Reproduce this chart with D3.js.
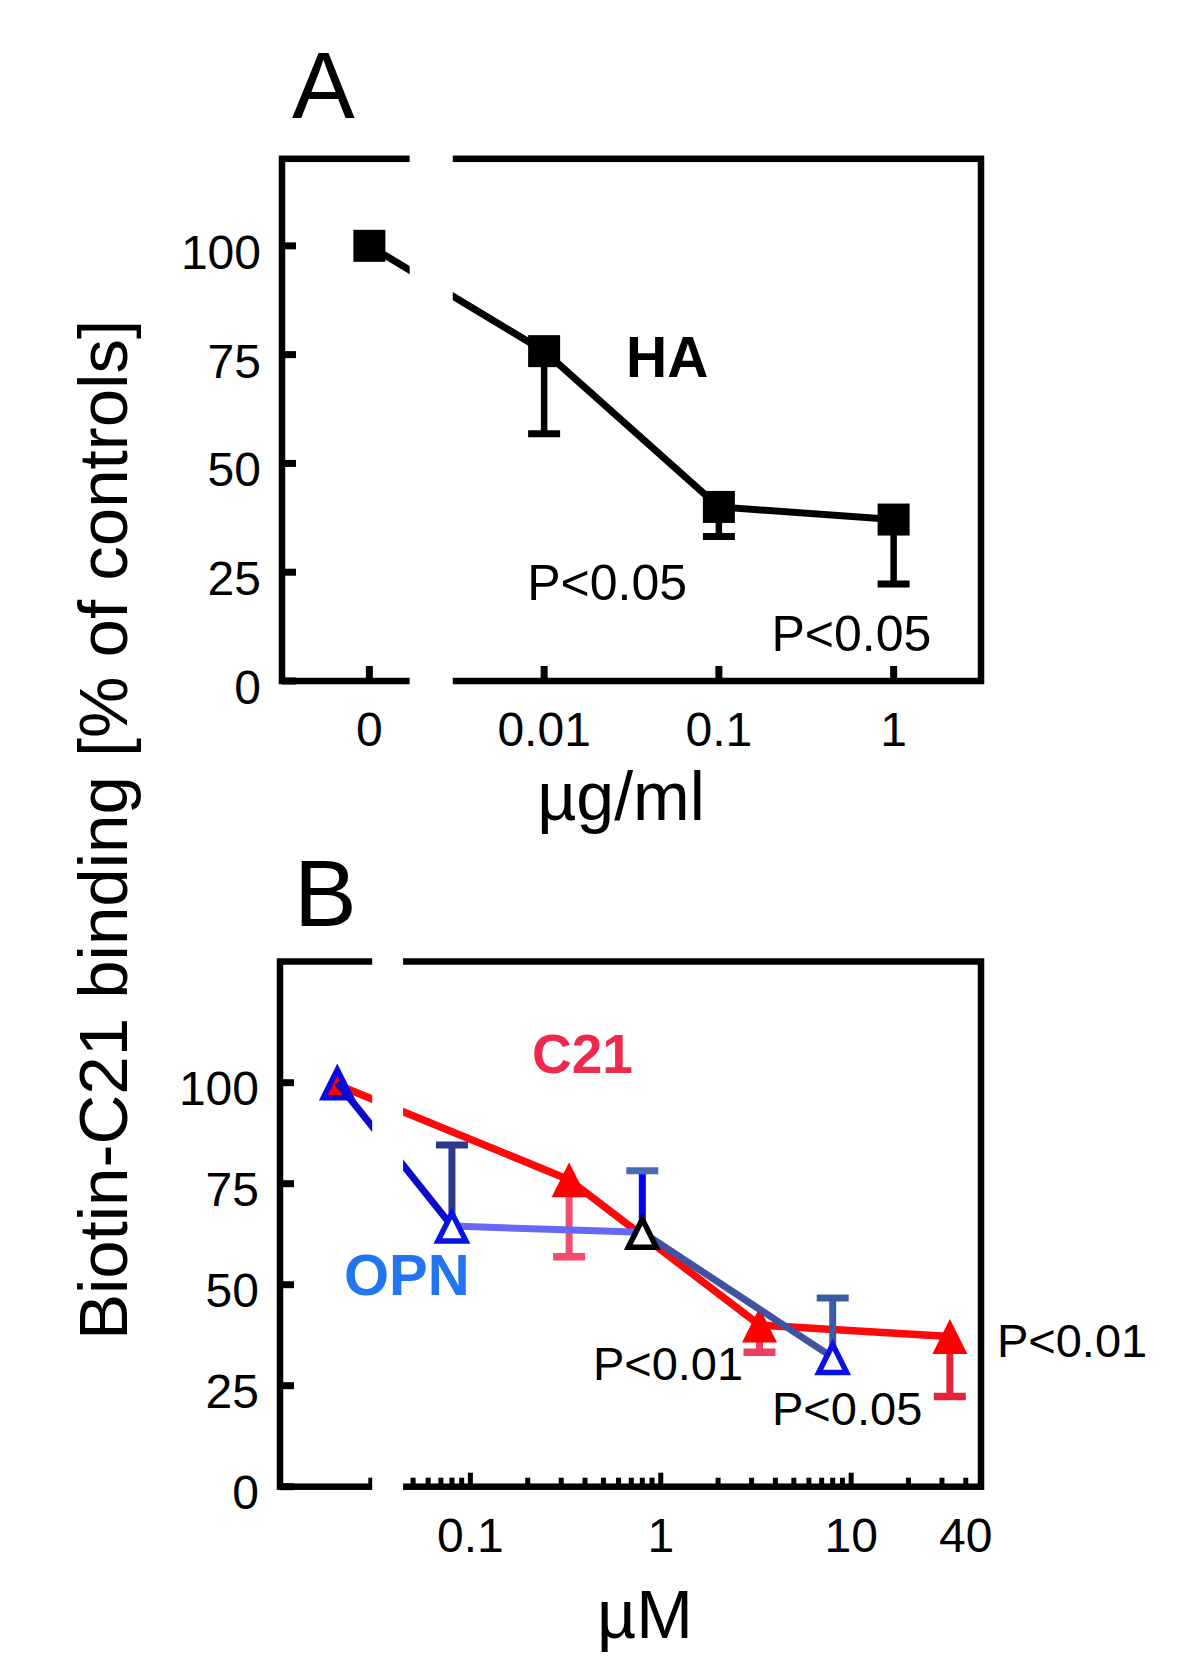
<!DOCTYPE html>
<html>
<head>
<meta charset="utf-8">
<script src="https://cdn.jsdelivr.net/npm/d3@7"></script>
<style>
  body { margin: 0; background: #ffffff; }
  svg { display: block; }
</style>
</head>
<body>
<svg id="chart" width="1200" height="1679"></svg>
<script>
// ---------------- DATA ----------------
// Panel A: HA (µg/ml)
const haConc  = [0, 0.01, 0.1, 1];
const haMean  = [100, 75.8, 40, 37.1];
const haLower = [null, 56.8, 33.2, 22.3];
const haTickValues = [0, 0.01, 0.1, 1];
const haTickLabels = ["0", "0.01", "0.1", "1"];
const yTickValues = [0, 25, 50, 75, 100];

// Panel B: C21 and OPN (µM)
const c21Conc  = [0, 0.33, 3.3, 33];
const c21Mean  = [99.5, 76, 40, 37.2];
const c21Lower = [null, 56.9, 33.3, 22.3];

const opnConc  = [0, 0.08, 0.8, 8];
const opnMean  = [100, 64.5, 63, 32];
const opnUpper = [null, 84.6, 78.2, 46.7];

const bMajorTicks = [0.1, 1, 10];
const bMinorTicks = [0.03, 0.04, 0.05, 0.06, 0.07, 0.08, 0.09,
                     0.2, 0.3, 0.4, 0.5, 0.6, 0.7, 0.8, 0.9,
                     2, 3, 4, 5, 6, 7, 8, 9, 20, 30, 40];
const bTickValues = [0.1, 1, 10, 40];
const bTickLabels = ["0.1", "1", "10", "40"];

// Annotations
const pLabelsA = [
  { text: "P<0.05", conc: 0.008, value: 18.5 },
  { text: "P<0.05", conc: 0.2,   value: 7.0 }
];
const pLabelsB = [
  { text: "P<0.01", conc: 0.44, value: 26.5 },
  { text: "P<0.05", conc: 3.84, value: 15.2 },
  { text: "P<0.01", conc: 58.3, value: 32.0 }
];

// ---------------- STYLE / LAYOUT ----------------
const FONT = '"Liberation Sans", Arial, Helvetica, sans-serif';
const FRAME_W = 6.5;
const haControlAt = 0.001;   // where concentration 0 is placed on the log axis (A)
const bControlAt  = 0.02;    // where concentration 0 is placed on the log axis (B)
const gapA = [0.0017, 0.003];
const gapB = [0.0305, 0.0443];

const c21LineColor = "#fc0a0a";
const c21MarkColor = "#ff0000";
const c21ErrColors = ["#f44d6d", "#ef3c62", "#e5243c"];
const opnSegColors = ["#0c0cc8", "#6868f6", "#4352a0"];
const opnMarkColors = ["#0a0ae0", "#0a14e0", "#000000", "#0a14e0"];
const opnErrStem = ["#2a3890", "#0000ff", "#3c5aa5"];
const opnErrCap  = ["#2a3890", "#4a6ab5", "#3c5aa5"];

const svg = d3.select("#chart");

// ---------------- PANEL A ----------------
const xA = d3.scaleLog().domain([Math.pow(10, -3.5), Math.pow(10, 0.5)]).range([282, 981]);
const yA = d3.scaleLinear().domain([0, 120]).range([681, 158.8]);
const axA = c => (c === 0 ? haControlAt : c);

const gA = svg.append("g");
const [ax0, ax1] = xA.range();
const [ay0, ay1] = yA.range();

gA.append("rect").attr("x", ax0).attr("y", ay1).attr("width", ax1 - ax0).attr("height", ay0 - ay1)
  .attr("fill", "none").attr("stroke", "#000").attr("stroke-width", FRAME_W);

gA.selectAll(".yt").data(yTickValues).enter().append("line")
  .attr("x1", ax0).attr("x2", ax0 + 14).attr("y1", d => yA(d)).attr("y2", d => yA(d))
  .attr("stroke", "#000").attr("stroke-width", 7);

gA.selectAll(".xt").data(haTickValues).enter().append("line")
  .attr("x1", d => xA(axA(d))).attr("x2", d => xA(axA(d)))
  .attr("y1", ay0).attr("y2", ay0 - 15)
  .attr("stroke", "#000").attr("stroke-width", 7);

const haPts = haConc.map((c, i) => ({ c, m: haMean[i], lo: haLower[i] }));

gA.append("path").datum(haPts)
  .attr("d", d3.line().x(d => xA(axA(d.c))).y(d => yA(d.m)))
  .attr("fill", "none").attr("stroke", "#000").attr("stroke-width", 7);

const haErr = haPts.filter(d => d.lo !== null);
gA.selectAll(".es").data(haErr).enter().append("line")
  .attr("x1", d => xA(axA(d.c))).attr("x2", d => xA(axA(d.c)))
  .attr("y1", d => yA(d.m)).attr("y2", d => yA(d.lo))
  .attr("stroke", "#000").attr("stroke-width", 6.5);
gA.selectAll(".ec").data(haErr).enter().append("line")
  .attr("x1", d => xA(axA(d.c)) - 16).attr("x2", d => xA(axA(d.c)) + 16)
  .attr("y1", d => yA(d.lo)).attr("y2", d => yA(d.lo))
  .attr("stroke", "#000").attr("stroke-width", 7);

gA.selectAll(".sq").data(haPts).enter().append("rect")
  .attr("x", d => xA(axA(d.c)) - 16).attr("y", d => yA(d.m) - 16)
  .attr("width", 32).attr("height", 32).attr("fill", "#000");

// axis break
gA.append("rect").attr("x", xA(gapA[0])).attr("width", xA(gapA[1]) - xA(gapA[0]))
  .attr("y", ay1 - 8).attr("height", ay0 - ay1 + 16).attr("fill", "#fff");

// labels
gA.selectAll(".yl").data(yTickValues).enter().append("text")
  .attr("x", 261).attr("y", d => yA(d) + 23).attr("text-anchor", "end")
  .attr("font-family", FONT).attr("font-size", 48).text(d => d);

gA.selectAll(".xl").data(haTickValues).enter().append("text")
  .attr("x", d => xA(axA(d))).attr("y", ay0 + 65).attr("text-anchor", "middle")
  .attr("font-family", FONT).attr("font-size", 48).text((d, i) => haTickLabels[i]);

gA.append("text").attr("x", 621).attr("y", 820).attr("text-anchor", "middle")
  .attr("font-family", FONT).attr("font-size", 68).text("µg/ml");

gA.append("text").attr("x", 292).attr("y", 118)
  .attr("font-family", FONT).attr("font-size", 94).text("A");

gA.append("text").attr("x", 626).attr("y", 377)
  .attr("font-family", FONT).attr("font-size", 57).attr("font-weight", "bold").text("HA");

gA.selectAll(".pl").data(pLabelsA).enter().append("text")
  .attr("x", d => xA(d.conc)).attr("y", d => yA(d.value))
  .attr("font-family", FONT).attr("font-size", 50).text(d => d.text);

// ---------------- PANEL B ----------------
const xB = d3.scaleLog().domain([0.01, Math.pow(10, 1.682)]).range([280, 981]);
const yB = d3.scaleLinear().domain([0, 130]).range([1486.7, 961.5]);
const bx = c => (c === 0 ? bControlAt : c);

const gB = svg.append("g");
const [bx0, bx1] = xB.range();
const [by0, by1] = yB.range();

gB.append("rect").attr("x", bx0).attr("y", by1).attr("width", bx1 - bx0).attr("height", by0 - by1)
  .attr("fill", "none").attr("stroke", "#000").attr("stroke-width", FRAME_W);

gB.selectAll(".yt").data(yTickValues).enter().append("line")
  .attr("x1", bx0).attr("x2", bx0 + 14).attr("y1", d => yB(d)).attr("y2", d => yB(d))
  .attr("stroke", "#000").attr("stroke-width", 7);

gB.selectAll(".xmaj").data(bMajorTicks).enter().append("line")
  .attr("x1", d => xB(d)).attr("x2", d => xB(d)).attr("y1", by0).attr("y2", by0 - 14)
  .attr("stroke", "#000").attr("stroke-width", 5);
gB.selectAll(".xmin").data(bMinorTicks).enter().append("line")
  .attr("x1", d => xB(d)).attr("x2", d => xB(d)).attr("y1", by0).attr("y2", by0 - 9)
  .attr("stroke", "#000").attr("stroke-width", 5);

// triangle paths
const triFilled = (h) => `M0,${-h}L${h},${h}L${-h},${h}Z`;

const c21Pts = c21Conc.map((c, i) => ({ c, m: c21Mean[i], lo: c21Lower[i] }));
const opnPts = opnConc.map((c, i) => ({ c, m: opnMean[i], up: opnUpper[i] }));

// C21 error bars (lower)
const c21Err = c21Pts.filter(d => d.lo !== null);
gB.selectAll(".c21es").data(c21Err).enter().append("line")
  .attr("x1", d => xB(bx(d.c))).attr("x2", d => xB(bx(d.c)))
  .attr("y1", d => yB(d.m)).attr("y2", d => yB(d.lo))
  .attr("stroke", (d, i) => c21ErrColors[i]).attr("stroke-width", 7);
gB.selectAll(".c21ec").data(c21Err).enter().append("line")
  .attr("x1", d => xB(bx(d.c)) - 16).attr("x2", d => xB(bx(d.c)) + 16)
  .attr("y1", d => yB(d.lo)).attr("y2", d => yB(d.lo))
  .attr("stroke", (d, i) => c21ErrColors[i]).attr("stroke-width", 7.5);

// C21 line
gB.append("path").datum(c21Pts)
  .attr("d", d3.line().x(d => xB(bx(d.c))).y(d => yB(d.m)))
  .attr("fill", "none").attr("stroke", c21LineColor).attr("stroke-width", 7.5);

// C21 markers
gB.selectAll(".c21m").data(c21Pts).enter().append("path")
  .attr("transform", d => `translate(${xB(bx(d.c))},${yB(d.m)})`)
  .attr("d", (d, i) => triFilled(i === 0 ? 14 : 17.5))
  .attr("fill", c21MarkColor);

// OPN line segments
const segs = d3.pairs(opnPts);
gB.selectAll(".opnseg").data(segs).enter().append("line")
  .attr("x1", d => xB(bx(d[0].c))).attr("y1", d => yB(d[0].m))
  .attr("x2", d => xB(bx(d[1].c))).attr("y2", d => yB(d[1].m))
  .attr("stroke", (d, i) => opnSegColors[i]).attr("stroke-width", 7);

// OPN error bars (upper)
const opnErr = opnPts.filter(d => d.up !== null);
gB.selectAll(".opnes").data(opnErr).enter().append("line")
  .attr("x1", d => xB(bx(d.c))).attr("x2", d => xB(bx(d.c)))
  .attr("y1", d => yB(d.m)).attr("y2", d => yB(d.up))
  .attr("stroke", (d, i) => opnErrStem[i]).attr("stroke-width", 7);
gB.selectAll(".opnec").data(opnErr).enter().append("line")
  .attr("x1", d => xB(bx(d.c)) - 16).attr("x2", d => xB(bx(d.c)) + 16)
  .attr("y1", d => yB(d.up)).attr("y2", d => yB(d.up))
  .attr("stroke", (d, i) => opnErrCap[i]).attr("stroke-width", 7);

// OPN markers (open triangles)
gB.selectAll(".opnm").data(opnPts).enter().append("path")
  .attr("transform", d => `translate(${xB(bx(d.c))},${yB(d.m) + 1})`)
  .attr("d", triFilled(14))
  .attr("fill", d => (d.c === 0 ? "none" : "#fff"))
  .attr("stroke", (d, i) => opnMarkColors[i]).attr("stroke-width", 5.5)
  .attr("stroke-linejoin", "miter");

// axis break
gB.append("rect").attr("x", xB(gapB[0])).attr("width", xB(gapB[1]) - xB(gapB[0]))
  .attr("y", by1 - 8).attr("height", by0 - by1 + 16).attr("fill", "#fff");

// labels
gB.selectAll(".yl").data(yTickValues).enter().append("text")
  .attr("x", 259).attr("y", d => yB(d) + 22).attr("text-anchor", "end")
  .attr("font-family", FONT).attr("font-size", 48).text(d => d);

gB.selectAll(".xl").data(bTickValues).enter().append("text")
  .attr("x", d => xB(d)).attr("y", by0 + 65).attr("text-anchor", "middle")
  .attr("font-family", FONT).attr("font-size", 48).text((d, i) => bTickLabels[i]);

gB.append("text").attr("x", 645).attr("y", 1638).attr("text-anchor", "middle")
  .attr("font-family", FONT).attr("font-size", 68).text("µM");

gB.append("text").attr("x", 294).attr("y", 926)
  .attr("font-family", FONT).attr("font-size", 94).text("B");

gB.append("text").attr("x", 532).attr("y", 1073)
  .attr("font-family", FONT).attr("font-size", 55).attr("font-weight", "bold")
  .attr("fill", "#f0284c").text("C21");

gB.append("text").attr("x", 344).attr("y", 1295)
  .attr("font-family", FONT).attr("font-size", 58).attr("font-weight", "bold")
  .attr("fill", "#2274f0").text("OPN");

gB.selectAll(".pl").data(pLabelsB).enter().append("text")
  .attr("x", d => xB(d.conc)).attr("y", d => yB(d.value))
  .attr("font-family", FONT).attr("font-size", 47).text(d => d.text);

// shared y-axis title
svg.append("text")
  .attr("transform", "translate(127,830) rotate(-90)")
  .attr("text-anchor", "middle")
  .attr("font-family", FONT).attr("font-size", 69)
  .text("Biotin-C21 binding [% of controls]");
</script>
</body>
</html>
